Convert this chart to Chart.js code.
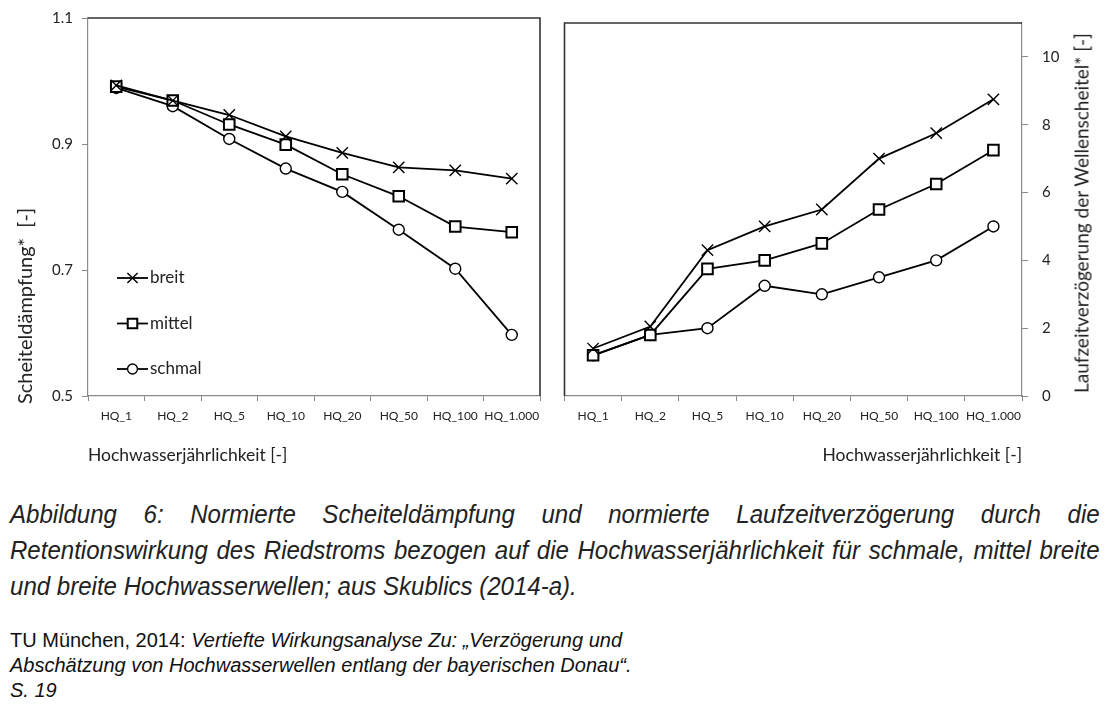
<!DOCTYPE html>
<html lang="de">
<head>
<meta charset="utf-8">
<title>Scheiteldämpfung und Laufzeitverzögerung</title>
<script src="https://cdn.jsdelivr.net/npm/chart.js@4.4.1/dist/chart.umd.min.js"></script>
<style>
  html, body { margin: 0; padding: 0; background: #fff; }
  body { width: 1115px; height: 705px; position: relative; overflow: hidden; font-family: 'Liberation Sans', Arial, sans-serif; color: #1a1a1a; }
  .chart-box { position: absolute; top: 0; height: 470px; }
  #leftBox { left: 0; width: 555px; }
  #rightBox { left: 555px; width: 560px; }
  .y-title { position: absolute; transform: translate(-50%, -50%) rotate(-90deg); white-space: nowrap; font-family: Lato, sans-serif; color: #222; }
  #yTitleLeft { left: 24px; top: 306px; font-size: 20px; }
  #yTitleRight { left: 1081px; top: 213px; font-size: 19px; }
  .caption { position: absolute; left: 10px; top: 496px; width: 1178px; transform: scaleX(0.925); transform-origin: 0 0; font-style: italic; font-size: 26px; line-height: 36px; color: #222; }
  .caption div { text-align: justify; text-align-last: justify; white-space: nowrap; }
  .caption div.last { text-align-last: left; }
  .source { position: absolute; left: 10px; top: 628px; width: 800px; font-size: 20px; line-height: 25px; color: #111; }
</style>
</head>
<body>
  <div class="chart-box" id="leftBox"><canvas id="dampChart"></canvas></div>
  <div class="chart-box" id="rightBox"><canvas id="delayChart"></canvas></div>
  <div class="y-title" id="yTitleLeft">Scheiteldämpfung*&nbsp; [-]</div>
  <div class="y-title" id="yTitleRight">Laufzeitverzögerung der Wellenscheitel* [-]</div>

  <div class="caption">
    <div>Abbildung 6: Normierte Scheiteldämpfung und normierte Laufzeitverzögerung durch die</div>
    <div>Retentionswirkung des Riedstroms bezogen auf die Hochwasserjährlichkeit für schmale, mittel breite</div>
    <div class="last">und breite Hochwasserwellen; aus Skublics (2014-a).</div>
  </div>
  <div class="source">
    TU München, 2014: <i>Vertiefte Wirkungsanalyse Zu: „Verzögerung und</i><br>
    <i>Abschätzung von Hochwasserwellen entlang der bayerischen Donau“.</i><br>
    <i>S. 19</i>
  </div>

<script>
// Categories and series
const categories = ['HQ_1', 'HQ_2', 'HQ_5', 'HQ_10', 'HQ_20', 'HQ_50', 'HQ_100', 'HQ_1.000'];

// Left: Scheiteldämpfung
const dampBreit  = [0.993, 0.969, 0.946, 0.912, 0.886, 0.863, 0.858, 0.845];
const dampMittel = [0.991, 0.969, 0.931, 0.899, 0.852, 0.817, 0.769, 0.760];
const dampSchmal = [0.989, 0.960, 0.908, 0.861, 0.824, 0.764, 0.702, 0.597];
const dampTicks  = [0.5, 0.7, 0.9, 1.1];

// Right: Laufzeitverzögerung
const delayBreit  = [1.4, 2.05, 4.3, 5.0, 5.5, 7.0, 7.75, 8.75];
const delayMittel = [1.2, 1.8, 3.75, 4.0, 4.5, 5.5, 6.25, 7.25];
const delaySchmal = [1.2, 1.8, 2.0, 3.25, 3.0, 3.5, 4.0, 5.0];
const delayTicks  = [0, 2, 4, 6, 8, 10];

const axisGray = '#8a8a8a';
const frameDark = '#333';
const textColor = '#222';

// Dark frame on the two sides without an axis
const framePlugin = {
    id: 'frame',
    afterDraw(chart, args, opts) {
        const { ctx, chartArea: a } = chart;
        ctx.save();
        ctx.strokeStyle = opts.color;
        ctx.lineWidth = opts.width;
        ctx.beginPath();
        if (opts.side === 'right') {
            ctx.moveTo(a.left, a.top);
            ctx.lineTo(a.right, a.top);
            ctx.lineTo(a.right, a.bottom);
        } else {
            ctx.moveTo(a.right, a.top);
            ctx.lineTo(a.left, a.top);
            ctx.lineTo(a.left, a.bottom);
        }
        ctx.stroke();
        ctx.restore();
    }
};

// Legend drawn inside the plot: short line with marker, then label
const lineLegend = {
    id: 'lineLegend',
    afterDatasetsDraw(chart, args, opts) {
        if (!opts.display) return;
        const { ctx, chartArea: a } = chart;
        chart.data.datasets.forEach((ds, i) => {
            const y = a.top + opts.top + i * opts.gap;
            const x0 = a.left + opts.left;
            ctx.save();
            ctx.strokeStyle = ds.borderColor;
            ctx.lineWidth = ds.borderWidth;
            ctx.beginPath();
            ctx.moveTo(x0, y);
            ctx.lineTo(x0 + opts.lineLength, y);
            ctx.stroke();
            ctx.fillStyle = ds.pointBackgroundColor;
            ctx.strokeStyle = ds.pointBorderColor;
            ctx.lineWidth = ds.pointBorderWidth;
            Chart.helpers.drawPoint(ctx, {
                pointStyle: ds.pointStyle,
                radius: ds.pointRadius * opts.markerScale,
                borderWidth: ds.pointBorderWidth,
                rotation: 0
            }, x0 + opts.lineLength / 2, y);
            ctx.fillStyle = opts.color;
            ctx.font = opts.font;
            ctx.textBaseline = 'middle';
            ctx.textAlign = 'left';
            ctx.fillText(ds.label, x0 + opts.lineLength + 2, y);
            ctx.restore();
        });
    }
};

function series(label, data, style, radius, bw) {
    return {
        label: label,
        data: data,
        borderColor: '#000',
        borderWidth: 1.8,
        tension: 0,
        pointStyle: style,
        pointRadius: radius,
        pointBorderWidth: bw,
        pointBorderColor: '#000',
        pointBackgroundColor: '#fff'
    };
}

function buildDatasets(breit, mittel, schmal) {
    return [
        series('breit', breit, 'crossRot', 8, 1.4),
        series('mittel', mittel, 'rect', 7.5, 2),
        series('schmal', schmal, 'circle', 5.5, 1.4)
    ];
}

const tickFont = { family: 'Lato', size: 15 };
const catFont = { family: 'Lato', size: 12 };
const titleFont = { family: 'Lato', size: 17.5 };

function xScale(align) {
    return {
        offset: true,
        grid: { offset: true, drawOnChartArea: false, tickLength: 5, color: axisGray },
        border: { color: axisGray, width: 1.2 },
        ticks: { font: catFont, color: textColor, padding: 8, maxRotation: 0, autoSkip: false },
        title: { display: true, text: 'Hochwasserjährlichkeit [-]', align: align, font: titleFont, color: textColor },
        afterFit(s) { s.height = 74; }
    };
}

document.addEventListener('DOMContentLoaded', function() {
    // Scheiteldämpfung (left)
    new Chart(document.getElementById('dampChart'), {
        type: 'line',
        data: { labels: categories, datasets: buildDatasets(dampBreit, dampMittel, dampSchmal) },
        plugins: [framePlugin, lineLegend],
        options: {
            responsive: true,
            maintainAspectRatio: false,
            animation: false,
            layout: { padding: { top: 16, right: 15, left: 0, bottom: 0 } },
            plugins: {
                legend: { display: false },
                tooltip: { enabled: false },
                frame: { side: 'right', color: frameDark, width: 1.6 },
                lineLegend: { display: true, left: 29, top: 260, gap: 45.5, lineLength: 31, markerScale: 0.9,
                              font: '17px Lato', color: textColor }
            },
            scales: {
                x: xScale('start'),
                y: {
                    min: 0.5,
                    max: 1.1,
                    afterBuildTicks(s) { s.ticks = dampTicks.map(v => ({ value: v })); },
                    grid: { drawOnChartArea: false, tickLength: 6, color: axisGray },
                    border: { color: axisGray, width: 1.2 },
                    ticks: { font: tickFont, color: textColor, padding: 9, callback: v => Number(v).toFixed(1) },
                    afterFit(s) { s.width = 88; }
                }
            }
        }
    });

    // Laufzeitverzögerung (right)
    new Chart(document.getElementById('delayChart'), {
        type: 'line',
        data: { labels: categories, datasets: buildDatasets(delayBreit, delayMittel, delaySchmal) },
        plugins: [framePlugin],
        options: {
            responsive: true,
            maintainAspectRatio: false,
            animation: false,
            layout: { padding: { top: 16, right: 0, left: 8, bottom: 0 } },
            plugins: {
                legend: { display: false },
                tooltip: { enabled: false },
                frame: { side: 'left', color: frameDark, width: 1.6 }
            },
            scales: {
                x: xScale('end'),
                y: {
                    position: 'right',
                    min: 0,
                    max: 11,
                    afterBuildTicks(s) { s.ticks = delayTicks.map(v => ({ value: v })); },
                    grid: { drawOnChartArea: false, tickLength: 6, color: axisGray },
                    border: { color: axisGray, width: 1.2 },
                    ticks: { font: tickFont, color: textColor, padding: 14, callback: v => String(v) },
                    afterFit(s) { s.width = 93; }
                }
            }
        }
    });
});
</script>
</body>
</html>
